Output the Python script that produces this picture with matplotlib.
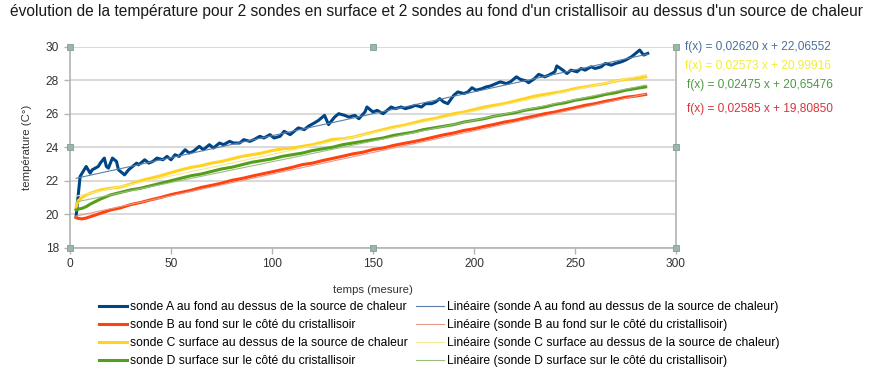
import numpy as np
import matplotlib
matplotlib.use('Agg')
from matplotlib import pyplot as plt

plt.rcParams['font.family'] = ['Liberation Sans', 'DejaVu Sans']

TITLE = "évolution de la température pour 2 sondes en surface et 2 sondes au fond d'un cristallisoir au dessus d'un source de chaleur"

# sonde A (noisy, read point by point)
X_A = [3, 5, 8, 10, 11, 14, 15, 17, 18, 19, 21, 23, 24, 27, 29, 31, 33, 34, 37, 39,
       41, 43, 46, 48, 50, 52, 54, 57, 59, 61, 64, 66, 69, 71, 74, 76, 79, 81, 84, 86,
       89, 91, 94, 96, 99, 101, 104, 106, 109, 111, 113, 116, 118, 121, 123, 126, 128, 131, 133, 136,
       138, 141, 143, 146, 147, 150, 152, 155, 156, 159, 161, 164, 166, 169, 171, 174, 176, 179, 181, 183,
       185, 187, 190, 192, 195, 197, 199, 201, 204, 206, 208, 211, 213, 216, 218, 221, 223, 226, 227, 230,
       232, 235, 237, 240, 241, 244, 246, 248, 251, 253, 255, 258, 260, 263, 265, 268, 270, 273, 275, 278,
       280, 282, 284, 286]
SONDE_A = [19.85, 22.25, 22.85, 22.45, 22.65, 22.85, 23.05, 23.35, 22.85, 22.75, 23.35, 23.15, 22.65, 22.35, 22.65, 22.85, 23.05, 22.95, 23.25, 23.05,
           23.15, 23.35, 23.25, 23.45, 23.25, 23.55, 23.45, 23.85, 23.65, 23.75, 24.05, 23.85, 24.15, 23.95, 24.25, 24.15, 24.35, 24.25, 24.25, 24.45,
           24.35, 24.45, 24.65, 24.55, 24.75, 24.55, 24.65, 24.95, 24.75, 24.95, 25.15, 25.05, 25.25, 25.45, 25.6, 25.9, 25.35, 25.8, 26.0, 25.9,
           25.8, 25.9, 25.7, 26.1, 26.4, 26.1, 26.2, 26.0, 26.1, 26.4, 26.3, 26.4, 26.3, 26.4, 26.5, 26.4, 26.6, 26.6, 26.7, 26.9,
           26.7, 26.6, 27.1, 27.3, 27.2, 27.3, 27.55, 27.4, 27.5, 27.6, 27.65, 27.8, 27.9, 27.8, 27.9, 28.2, 28.05, 27.95, 27.85, 28.1,
           28.35, 28.2, 28.3, 28.5, 28.85, 28.6, 28.4, 28.6, 28.5, 28.7, 28.6, 28.8, 28.7, 28.8, 29.0, 28.9, 29.0, 29.1, 29.2, 29.4,
           29.6, 29.8, 29.5, 29.6]

# sondes B, C, D (smoother)
X_BCD = [3, 4, 6, 8, 10, 15, 20, 25, 30, 35, 40, 45, 50, 55, 60, 65, 70, 75, 80, 85,
         90, 95, 100, 105, 110, 115, 120, 125, 130, 135, 140, 145, 150, 155, 160, 165, 170, 175, 180, 185,
         190, 195, 200, 205, 210, 215, 220, 225, 230, 235, 240, 245, 250, 255, 260, 265, 270, 275, 280, 285]
SONDE_B = [19.8, 19.75, 19.72, 19.77, 19.85, 20.05, 20.25, 20.38, 20.57, 20.7, 20.86, 21.0, 21.17, 21.3, 21.43, 21.6, 21.72, 21.85, 22.02, 22.13,
           22.27, 22.4, 22.53, 22.66, 22.8, 22.96, 23.05, 23.2, 23.33, 23.46, 23.6, 23.7, 23.86, 23.95, 24.1, 24.22, 24.33, 24.46, 24.6, 24.74,
           24.85, 25.0, 25.1, 25.24, 25.36, 25.5, 25.6, 25.74, 25.86, 26.0, 26.1, 26.24, 26.36, 26.5, 26.6, 26.74, 26.85, 26.98, 27.05, 27.15]
SONDE_C = [20.4, 20.8, 21.0, 21.15, 21.25, 21.45, 21.55, 21.62, 21.8, 22.0, 22.15, 22.3, 22.48, 22.65, 22.8, 22.9, 23.05, 23.15, 23.3, 23.45,
           23.55, 23.65, 23.8, 23.9, 23.95, 24.05, 24.15, 24.3, 24.47, 24.5, 24.6, 24.75, 24.9, 25.05, 25.2, 25.3, 25.45, 25.6, 25.7, 25.85,
           26.0, 26.1, 26.25, 26.4, 26.5, 26.6, 26.75, 26.9, 27.05, 27.15, 27.25, 27.35, 27.5, 27.6, 27.7, 27.8, 27.95, 28.05, 28.1, 28.2]
SONDE_D = [20.25, 20.3, 20.35, 20.45, 20.6, 20.9, 21.15, 21.3, 21.45, 21.55, 21.7, 21.85, 22.0, 22.15, 22.3, 22.4, 22.55, 22.7, 22.8, 22.95,
           23.1, 23.2, 23.3, 23.45, 23.55, 23.65, 23.8, 23.9, 24.0, 24.15, 24.25, 24.35, 24.45, 24.55, 24.7, 24.8, 24.9, 25.05, 25.15, 25.25,
           25.35, 25.5, 25.6, 25.7, 25.85, 25.95, 26.05, 26.2, 26.3, 26.4, 26.55, 26.65, 26.8, 26.9, 27.0, 27.15, 27.25, 27.4, 27.5, 27.6]

# regression coefficients shown on the chart (slope, intercept)
FIT_A = [0.02620, 22.06552]
FIT_B = [0.02585, 19.80850]
FIT_C = [0.02573, 20.99916]
FIT_D = [0.02475, 20.65476]

LABELS = ['sonde A au fond au dessus de la source de chaleur',
          'sonde B au fond sur le côté du cristallisoir',
          'sonde C surface au dessus de la source de chaleur',
          'sonde D surface sur le côté du cristallisoir']
EQUATIONS = ['f(x) = 0,02620 x + 22,06552', 'f(x) = 0,02573 x + 20,99916',
             'f(x) = 0,02475 x + 20,65476', 'f(x) = 0,02585 x + 19,80850']

COLORS = ['#004586', '#ff420e', '#ffd320', '#579d1c']
TREND_COLORS = ['#5a7ea8', '#e89a88', '#f8e890', '#98c080']
EQ_COLORS = ['#4d6f99', '#f2ee3a', '#4c9a45', '#d8343c']

fig = plt.figure(figsize=(8.72, 3.71), dpi=100)
ax = fig.add_axes([70 / 872, 1 - 247.7 / 371, 606 / 872, 201 / 371])

series = [(X_A, SONDE_A, FIT_A), (X_BCD, SONDE_B, FIT_B),
          (X_BCD, SONDE_C, FIT_C), (X_BCD, SONDE_D, FIT_D)]
handles, trend_handles = [], []
for i, (xs, ys, fit) in enumerate(series):
    h, = ax.plot(xs, ys, color=COLORS[i], lw=2.2, label=LABELS[i], zorder=3)
    handles.append(h)
for i, (xs, ys, fit) in enumerate(series):
    tx = np.array([xs[0], xs[-1]])
    t, = ax.plot(tx, np.polyval(fit, tx), color=TREND_COLORS[i], lw=0.8,
                 label='Linéaire (' + LABELS[i] + ')', zorder=4)
    trend_handles.append(t)

ax.set_xlim(0, 300)
ax.set_ylim(18, 30)
ax.set_xticks(range(0, 301, 50))
ax.set_yticks(range(18, 31, 2))
ax.grid(axis='y', color='#d3d3d3', lw=1.2)
ax.set_axisbelow(True)
for side in ['left', 'bottom', 'right']:
    ax.spines[side].set_color('#b3b3b3')
    ax.spines[side].set_linewidth(1.2)
ax.spines['top'].set_visible(False)
ax.tick_params(colors='#b3b3b3', labelcolor='#333333', labelsize=8.6, length=4, width=1)
ax.tick_params(axis='y', pad=4)

ax.set_xlabel('temps (mesure)', fontsize=8.2, color='#333333', labelpad=11)
ax.set_ylabel('température (C°)', fontsize=8.2, color='#333333', labelpad=10)
fig.suptitle(TITLE, x=0.5, y=0.99, fontsize=11.2, color='#1a1a1a')

# selection handles around the plot area
for hx, hy in [(0, 0), (0.5, 0), (1, 0), (0, 0.5), (1, 0.5), (0, 1), (0.5, 1), (1, 1)]:
    ax.plot(hx, hy, 's', ms=4.5, color='#9ab7a8', mec='#7f9f8f', mew=0.6,
            transform=ax.transAxes, clip_on=False, zorder=6)

for i, eq in enumerate(EQUATIONS):
    ypos = [46.7, 65.7, 85, 109][i]
    xpos = [685, 685, 687, 687][i]
    fig.text(xpos / 872, 1 - ypos / 371, eq, color=EQ_COLORS[i], fontsize=8.6, va='center')

fig.legend(handles + trend_handles, [h.get_label() for h in handles + trend_handles],
           ncol=2, loc='upper left', bbox_to_anchor=(99 / 872, 1 - 301 / 371),
           frameon=False, fontsize=8.7, handlelength=2.35, handletextpad=0.25,
           labelspacing=0.5, columnspacing=0.65, borderaxespad=0, borderpad=0)

fig.savefig('out.png', dpi=100)
